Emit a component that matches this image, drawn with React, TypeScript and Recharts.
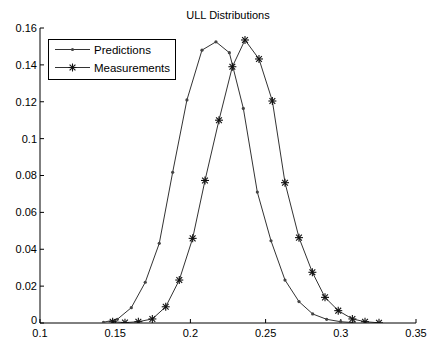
import { LineChart, Line, XAxis, YAxis } from "recharts";

// predictions: x positions of the bins and their density
const predX = [
  0.1422, 0.1514, 0.1607, 0.17, 0.1793, 0.1882, 0.1977, 0.2077, 0.217, 0.2259,
  0.2352, 0.2445, 0.2536, 0.2629, 0.2722, 0.2813, 0.2906, 0.2999, 0.309,
];
const predY = [
  0.0004, 0.002, 0.0083, 0.0221, 0.0432, 0.0817, 0.121, 0.148, 0.1525, 0.1466,
  0.1164, 0.071, 0.0446, 0.0233, 0.0116, 0.0049, 0.002, 0.0007, 0.0002,
];

// measurements
const measX = [
  0.1483, 0.1565, 0.1654, 0.1747, 0.1836, 0.1926, 0.2015, 0.2097, 0.219, 0.2279,
  0.2363, 0.2456, 0.2545, 0.2629, 0.2722, 0.2811, 0.2895, 0.2983, 0.3077, 0.3161,
  0.3254,
];
const measY = [
  0.0007, 0.0002, 0.0007, 0.0022, 0.0088, 0.0233, 0.0459, 0.0773, 0.11, 0.139,
  0.1535, 0.1432, 0.1204, 0.0761, 0.0463, 0.0275, 0.0139, 0.0067, 0.0022, 0.0007,
  0.0001,
];

const xTicks = [0.1, 0.15, 0.2, 0.25, 0.3, 0.35];
const yTicks = [0, 0.02, 0.04, 0.06, 0.08, 0.1, 0.12, 0.14, 0.16];
const seriesNames = ["Predictions", "Measurements"];
const title = "ULL Distributions";

const predData = predX.map((x, i) => ({ x, y: predY[i] }));
const measData = measX.map((x, i) => ({ x, y: measY[i] }));

const FONT = "'Liberation Sans', Arial, Helvetica, sans-serif";
const LINE = "#333";

function Star({ cx, cy }: { cx?: number; cy?: number }) {
  if (cx == null || cy == null) return null;
  const r = 4;
  const d = 2.9;
  return (
    <g stroke="#111" strokeWidth={1.1}>
      <line x1={cx - r} y1={cy} x2={cx + r} y2={cy} />
      <line x1={cx} y1={cy - r} x2={cx} y2={cy + r} />
      <line x1={cx - d} y1={cy - d} x2={cx + d} y2={cy + d} />
      <line x1={cx - d} y1={cy + d} x2={cx + d} y2={cy - d} />
    </g>
  );
}

function Dot({ cx, cy }: { cx?: number; cy?: number }) {
  if (cx == null || cy == null) return null;
  return <circle cx={cx} cy={cy} r={1.6} fill="#444" />;
}

// y tick label; the 0 sits a little higher so it clears the 0.1 below it
function YTick({ x, y, payload }: any) {
  const lift = payload.value === 0 ? 3 : 0;
  return (
    <text
      x={x}
      y={y - lift}
      dy="0.36em"
      textAnchor="end"
      fontSize={11}
      fontFamily={FONT}
      fill="#000"
    >
      {payload.value}
    </text>
  );
}

export default function App() {
  const tickStyle = { fill: "#000", fontSize: 11, fontFamily: FONT };
  return (
    <div style={{ position: "relative", width: 428, height: 340, background: "#fff" }}>
      <style>{"body{margin:0}"}</style>
      <div
        style={{
          position: "absolute",
          left: 40,
          width: 376,
          top: 9,
          textAlign: "center",
          fontFamily: FONT,
          fontSize: 11,
          lineHeight: "13px",
        }}
      >
        {title}
      </div>
      <LineChart width={428} height={340} margin={{ top: 28, right: 12, bottom: 0, left: 0 }}>
        <XAxis
          xAxisId="b"
          dataKey="x"
          type="number"
          domain={[0.1, 0.35]}
          allowDataOverflow
          ticks={xTicks}
          height={17}
          tickSize={-4}
          tickMargin={10}
          tick={tickStyle}
          stroke="#000"
          interval={0}
        />
        <XAxis
          xAxisId="t"
          orientation="top"
          type="number"
          domain={[0.1, 0.35]}
          allowDataOverflow
          ticks={xTicks}
          height={0}
          tickSize={-4}
          tick={false}
          stroke="#000"
          interval={0}
        />
        <YAxis
          yAxisId="l"
          type="number"
          domain={[0, 0.16]}
          allowDataOverflow
          ticks={yTicks}
          width={40}
          tickSize={-4}
          tickMargin={7}
          tick={<YTick />}
          stroke="#000"
          interval={0}
        />
        <YAxis
          yAxisId="r"
          orientation="right"
          type="number"
          domain={[0, 0.16]}
          allowDataOverflow
          ticks={yTicks}
          width={0}
          tickSize={-4}
          tick={false}
          stroke="#000"
          interval={0}
        />
        <Line
          xAxisId="b"
          yAxisId="l"
          data={predData}
          dataKey="y"
          name={seriesNames[0]}
          type="linear"
          stroke={LINE}
          strokeWidth={1}
          dot={<Dot />}
          isAnimationActive={false}
        />
        <Line
          xAxisId="b"
          yAxisId="l"
          data={measData}
          dataKey="y"
          name={seriesNames[1]}
          type="linear"
          stroke={LINE}
          strokeWidth={1}
          dot={<Star />}
          isAnimationActive={false}
        />
      </LineChart>
      {/* legend box */}
      <svg
        width={128}
        height={41}
        style={{ position: "absolute", left: 47.5, top: 38.5, overflow: "visible" }}
      >
        <rect x={0.5} y={0.5} width={127} height={40} fill="#fff" stroke="#000" strokeWidth={1} />
        <line x1={7} y1={10.5} x2={42} y2={10.5} stroke={LINE} strokeWidth={1} />
        <Dot cx={24.5} cy={10.5} />
        <text x={46} y={14.5} fontSize={11.5} fontFamily={FONT} fill="#000">
          {seriesNames[0]}
        </text>
        <line x1={7} y1={28.5} x2={42} y2={28.5} stroke={LINE} strokeWidth={1} />
        <Star cx={24.5} cy={28.5} />
        <text x={46} y={32.5} fontSize={11.5} fontFamily={FONT} fill="#000">
          {seriesNames[1]}
        </text>
      </svg>
    </div>
  );
}
